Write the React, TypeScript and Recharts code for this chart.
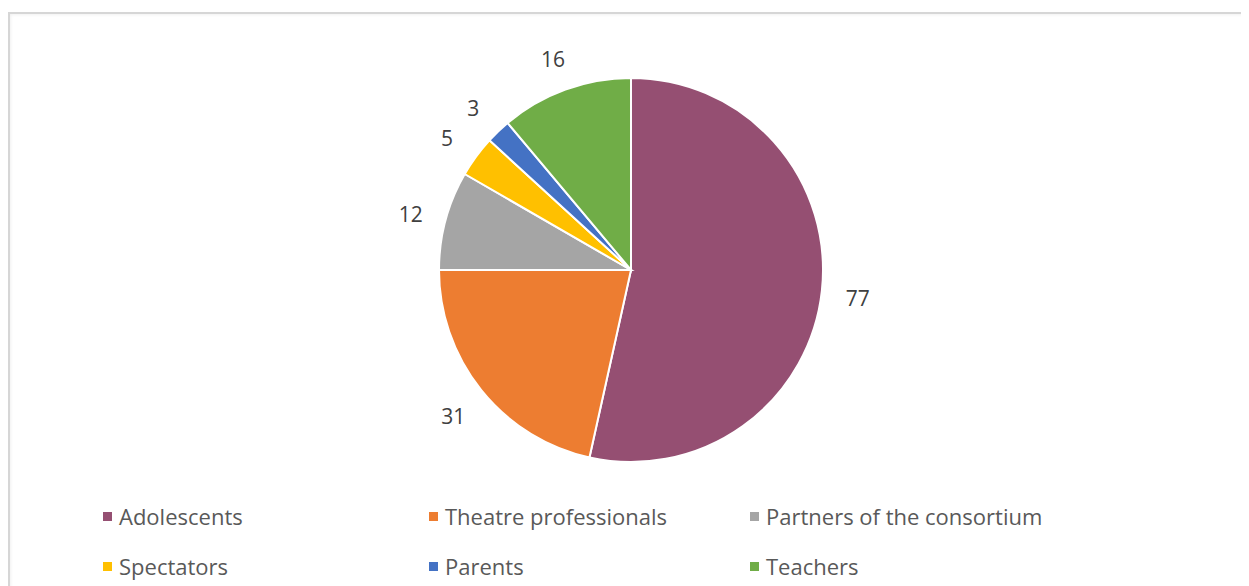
import { PieChart, Pie, Cell, Legend } from "recharts";

const groups = [
  "Adolescents",
  "Theatre professionals",
  "Partners of the consortium",
  "Spectators",
  "Parents",
  "Teachers",
];
const counts = [77, 31, 12, 5, 3, 16];
const colors = ["#954F72", "#ED7D31", "#A5A5A5", "#FFC000", "#4472C4", "#70AD47"];

const chartData = groups.map((name, i) => ({ name, value: counts[i] }));

const RADIAN = Math.PI / 180;
const FONT = "'Open Sans', 'Noto Sans', sans-serif";

const renderLabel = (props: any) => {
  const { cx, cy, midAngle, outerRadius, value } = props;
  const r = outerRadius + 36;
  const x = cx + r * Math.cos(-midAngle * RADIAN);
  const y = cy + r * Math.sin(-midAngle * RADIAN) + 3;
  return (
    <text
      x={x}
      y={y}
      fill="#404040"
      fontSize={21}
      fontFamily={FONT}
      textAnchor="middle"
      dominantBaseline="central"
    >
      {value}
    </text>
  );
};

// legend column starts (chart coords)
const colX = [95, 421, 742];
const rowY = [508, 558];

// keep the legend in data order (recharts sorts the payload by name)
const renderLegend = () => (
  <div style={{ position: "relative", width: 1233, height: 80 }}>
    {groups.map((name, i) => (
      <div
        key={name}
        style={{
          position: "absolute",
          left: colX[i % 3],
          top: rowY[Math.floor(i / 3)] - 495 - 14,
          display: "flex",
          alignItems: "center",
          height: 28,
          fontFamily: FONT,
          fontSize: 22,
          color: "#595959",
          whiteSpace: "nowrap",
        }}
      >
        <span
          style={{
            display: "inline-block",
            width: 9,
            height: 9,
            background: colors[i],
            marginRight: 7,
          }}
        />
        {name}
      </div>
    ))}
  </div>
);

export default function App() {
  return (
    <div style={{ position: "relative", width: 1233, height: 578 }}>
      <div
        style={{
          position: "absolute",
          left: 0,
          top: 4,
          right: -6,
          bottom: -10,
          borderTop: "2px solid #d6d6d6",
          borderLeft: "2px solid #d6d6d6",
          boxShadow: "inset 1px 1px 3px rgba(0,0,0,0.06)",
        }}
      />
      <PieChart
        width={1233}
        height={578}
        margin={{ top: 0, right: 0, bottom: 0, left: 0 }}
      >
        <Pie
          data={chartData}
          dataKey="value"
          nameKey="name"
          cx={623}
          cy={262}
          outerRadius={192}
          startAngle={90}
          endAngle={-270}
          stroke="#ffffff"
          strokeWidth={2}
          label={renderLabel}
          labelLine={false}
          isAnimationActive={false}
        >
          {chartData.map((d, i) => (
            <Cell key={d.name} fill={colors[i]} />
          ))}
        </Pie>
        <Legend
          content={renderLegend}
          wrapperStyle={{ position: "absolute", left: 0, top: 495, width: 1233 }}
        />
      </PieChart>
    </div>
  );
}
